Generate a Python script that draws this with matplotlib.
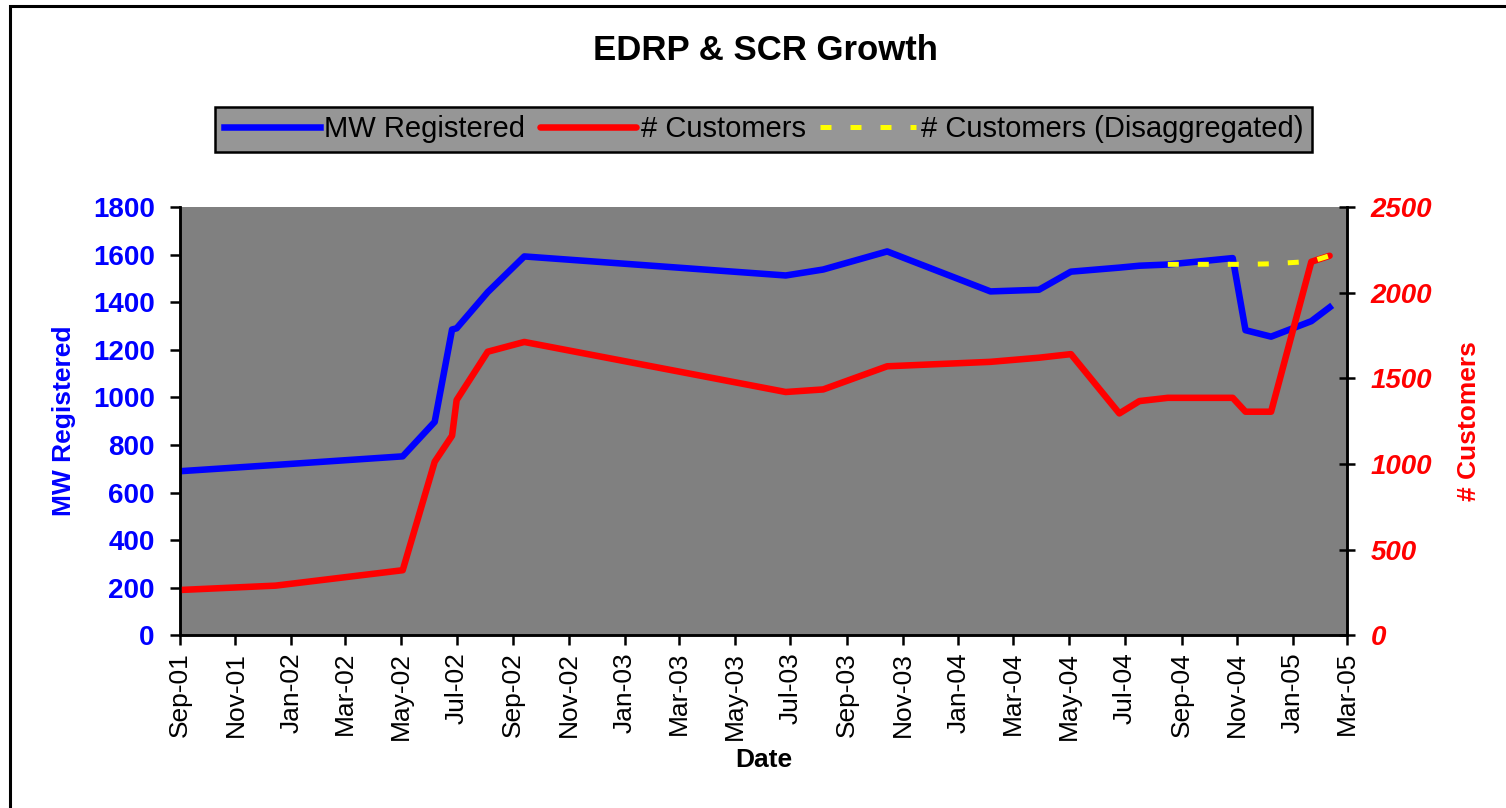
import matplotlib
matplotlib.use('Agg')
import matplotlib.pyplot as plt
import matplotlib.dates as mdates
from matplotlib.patches import Rectangle
import numpy as np

plt.rcParams['font.family'] = ['Liberation Sans', 'DejaVu Sans']

# data
dates = ['2001-09-03', '2001-12-15', '2002-05-03', '2002-06-07', '2002-06-26',
         '2002-07-01', '2002-08-04', '2002-09-13', '2003-06-26', '2003-08-06',
         '2003-10-15', '2004-02-05', '2004-03-29', '2004-05-03', '2004-06-25',
         '2004-07-17', '2004-08-17', '2004-10-27', '2004-11-10', '2004-12-08',
         '2005-01-21', '2005-02-10']
mw_registered = [690, 716, 752, 897, 1285, 1290, 1442, 1592, 1512, 1537,
                 1613, 1445, 1452, 1528, 1545, 1553, 1558, 1585, 1282, 1255,
                 1320, 1378]
customers = [265, 290, 380, 1013, 1165, 1373, 1655, 1712, 1420, 1435,
             1570, 1596, 1620, 1641, 1295, 1367, 1386, 1386, 1305, 1305,
             2180, 2215]
disagg_dates = ['2004-08-17', '2004-10-27', '2004-11-10', '2004-12-08',
                '2005-01-21', '2005-02-10']
disagg_customers = [2165, 2165, 2165, 2168, 2182, 2215]

x = np.array(dates, dtype='datetime64[D]')
xd = np.array(disagg_dates, dtype='datetime64[D]')

fig = plt.figure(figsize=(15.06, 8.08), dpi=100)
ax = fig.add_axes([0.1193, 0.2137, 0.7751, 0.5302])
ax2 = ax.twinx()

ax.set_facecolor('#808080')
l1, = ax.plot(x, mw_registered, color='#0000FF', lw=4.7,
              solid_joinstyle='round', label='MW Registered')
l2, = ax2.plot(x, customers, color='#FF0000', lw=4.7,
               solid_joinstyle='round', solid_capstyle='round',
               label='# Customers')
l3, = ax2.plot(xd, disagg_customers, color='#FFFF00', lw=3.6,
               dashes=(2.2, 3.8), label='# Customers (Disaggregated)')

ax.set_xlim(np.datetime64('2001-09-01'), np.datetime64('2005-03-01'))
ax.set_ylim(0, 1800)
ax2.set_ylim(0, 2500)
ax.set_yticks(np.arange(0, 1801, 200))
ax2.set_yticks(np.arange(0, 2501, 500))

ax.xaxis.set_major_locator(mdates.MonthLocator(bymonth=[1, 3, 5, 7, 9, 11]))
ax.xaxis.set_major_formatter(mdates.DateFormatter('%b-%y'))
for lab in ax.get_xticklabels():
    lab.set_rotation(90)

for a in (ax, ax2):
    a.spines['top'].set_visible(False)
    for s in ('left', 'right', 'bottom'):
        a.spines[s].set_linewidth(1.8)
ax.tick_params(axis='x', direction='out', length=7, width=1.8,
               labelsize=19, pad=5)
ax.tick_params(axis='y', direction='out', length=7, width=1.8,
               labelsize=20, labelcolor='#0000FF', pad=11)
ax2.tick_params(axis='y', direction='inout', length=12, width=1.8,
                labelsize=20, labelcolor='#FF0000', pad=11)
for lab in ax.get_yticklabels():
    lab.set_fontweight('bold')
for lab in ax2.get_yticklabels():
    lab.set_fontweight('bold')
    lab.set_fontstyle('italic')

ax.set_xlabel('Date', fontsize=19, fontweight='bold', labelpad=6)
ax.set_ylabel('MW Registered', fontsize=19, fontweight='bold',
              color='#0000FF', labelpad=12)
ax2.set_ylabel('# Customers', fontsize=19, fontweight='bold',
               color='#FF0000', labelpad=18)

fig.text(0.508, 0.937, 'EDRP & SCR Growth', ha='center', va='center',
         fontsize=25, fontweight='bold')

leg = fig.legend(handles=[l1, l2, l3], loc='center',
                 bbox_to_anchor=(0.507, 0.840), ncol=3, fontsize=21,
                 frameon=True, fancybox=False, handlelength=3.3,
                 handletextpad=0.15, columnspacing=0.5,
                 borderpad=0.3, borderaxespad=0)
leg.get_frame().set_facecolor('#969696')
leg.get_frame().set_edgecolor('black')
leg.get_frame().set_linewidth(1.8)
leg.get_frame().set_alpha(1)

# outer chart border (only top and left edges fall inside the image)
fig.patches.append(Rectangle((10 / 1506, -0.1), 1.2, 1.1 - 6 / 808,
                             transform=fig.transFigure, fill=False,
                             edgecolor='black', lw=2.2))

fig.savefig('out.png', dpi=100)
